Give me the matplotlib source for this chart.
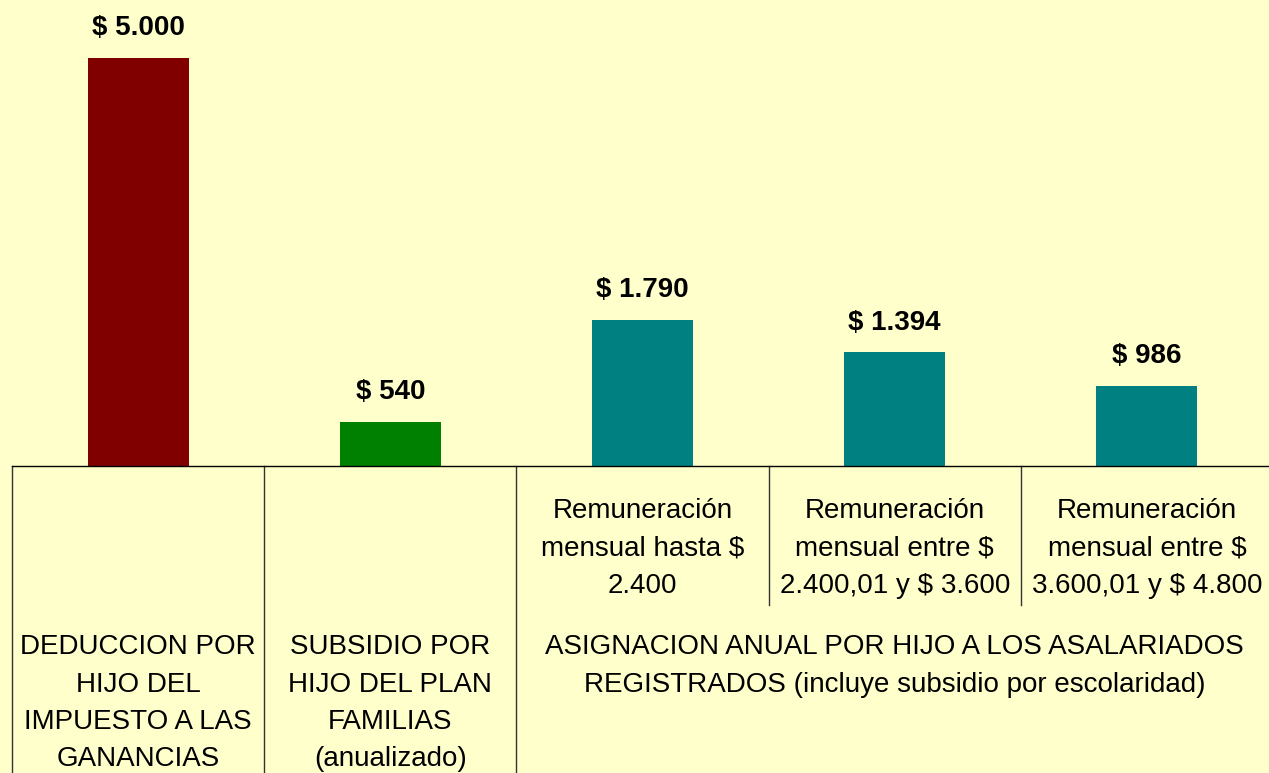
import matplotlib.pyplot as plt

# datos
categorias = [
    'DEDUCCION POR\nHIJO DEL\nIMPUESTO A LAS\nGANANCIAS',
    'SUBSIDIO POR\nHIJO DEL PLAN\nFAMILIAS\n(anualizado)',
    'Remuneración\nmensual hasta $\n2.400',
    'Remuneración\nmensual entre $\n2.400,01 y $ 3.600',
    'Remuneración\nmensual entre $\n3.600,01 y $ 4.800',
]
grupo_asignacion = 'ASIGNACION ANUAL POR HIJO A LOS ASALARIADOS\nREGISTRADOS (incluye subsidio por escolaridad)'
valores = [5000, 540, 1790, 1394, 986]
etiquetas = ['$ 5.000', '$ 540', '$ 1.790', '$ 1.394', '$ 986']
colores = ['#800000', '#008000', '#008080', '#008080', '#008080']

plt.rcParams['font.family'] = ['Liberation Sans', 'DejaVu Sans']
fondo = '#FFFFCC'

W, H = 1269, 773
fig = plt.figure(figsize=(W / 100, H / 100), dpi=100, facecolor=fondo)
base_px = 466  # pixel row of the axis line (from top)
ax = fig.add_axes([12 / W, (H - base_px) / H, 1261 / W, base_px / H])
ax.set_facecolor(fondo)

x = list(range(len(valores)))
bars = ax.bar(x, valores, width=0.4, color=colores)
ax.set_xlim(-0.5, 4.5)
ax.set_ylim(0, 5000 * base_px / 408)
ax.bar_label(bars, labels=etiquetas, padding=12, fontsize=20, fontweight='bold')

for s in ['top', 'left', 'right']:
    ax.spines[s].set_visible(False)
ax.spines['bottom'].set_linewidth(1.0)
ax.set_xticks([])
ax.set_yticks([])

trans = ax.get_xaxis_transform()


def fy(py):
    # pixel row below the top of the figure -> axes fraction
    return -(py - base_px) / base_px


# separadores de categorias
for xs in [-0.5, 0.5, 1.5]:
    ax.plot([xs, xs], [0, fy(H + 5)], color='#333333', lw=1, transform=trans, clip_on=False)
for xs in [2.5, 3.5]:
    ax.plot([xs, xs], [0, fy(605)], color='#333333', lw=1, transform=trans, clip_on=False)

paso = 37.5


def bloque(xc, texto, y0):
    for i, linea in enumerate(texto.split('\n')):
        ax.text(xc, fy(y0 + i * paso), linea, transform=trans, ha='center', va='center',
                fontsize=20, clip_on=False)


for i, cat in enumerate(categorias):
    bloque(i, cat, 647 if i < 2 else 511)
bloque(3, grupo_asignacion, 647)

fig.savefig('out.png', dpi=100, facecolor=fondo)
